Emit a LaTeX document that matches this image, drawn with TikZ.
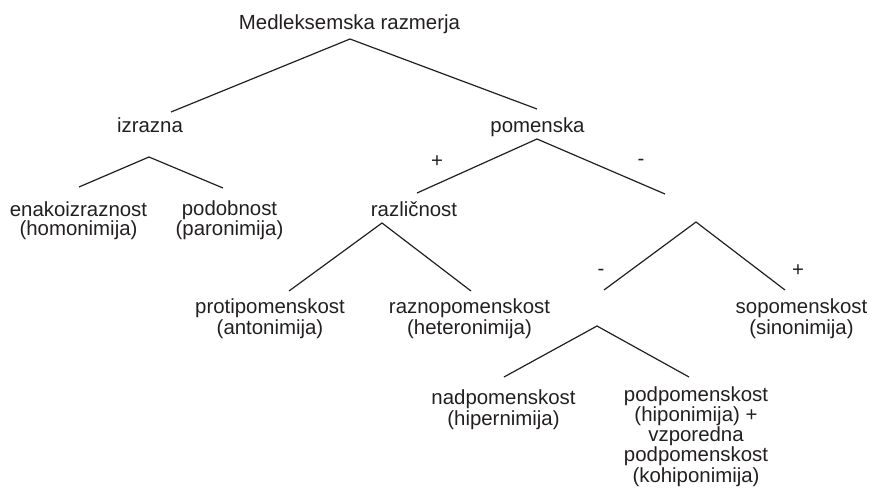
\documentclass[tikz,border=0pt]{standalone}
\usepackage{fontspec}
\setmainfont{Liberation Sans}
\definecolor{ink}{RGB}{35,31,32}
\begin{document}
\begin{tikzpicture}[x=1pt,y=-1pt,
  lbl/.style={anchor=base,inner sep=0pt,align=center,text=ink,
    font={\fontsize{20.4}{19}\selectfont}},
  sgn/.style={anchor=center,inner sep=0pt,text=ink,
    font={\fontsize{20.4}{19}\selectfont}},
  br/.style={draw=ink,line width=1.2pt}]
\useasboundingbox (0,0) rectangle (870,501);
% text nodes (anchor at the baseline of the last line)
\node[lbl] (root) at (349.5,29.5) {Medleksemska razmerja};
\node[lbl] (izr) at (150,132.3) {izrazna};
\node[lbl] (pom) at (537.5,132) {pomenska};
\node[lbl] (enak) at (78.5,235.5) {enakoizraznost\\(homonimija)};
\node[lbl] (podob) at (229.5,235.5) {podobnost\\(paronimija)};
\node[lbl] (razl) at (414,216) {različnost};
\node[lbl] (proti) at (270,334) {protipomenskost\\(antonimija)};
\node[lbl] (razno) at (469.5,334) {raznopomenskost\\(heteronimija)};
\node[lbl] (sopom) at (801.5,334) {sopomenskost\\(sinonimija)};
\node[lbl] (nadp) at (503.5,425) {nadpomenskost\\(hipernimija)};
\node[lbl] (podp) at (696,482) {podpomenskost\\(hiponimija) +\\vzporedna\\podpomenskost\\(kohiponimija)};
% signs
\node[sgn] (s1) at (437,162) {+};
\node[sgn] (s2) at (641,162) {-};
\node[sgn] (s3) at (601,272) {-};
\node[sgn] (s4) at (798,271) {+};
% branch coordinates
\coordinate (a0) at (350,39);
\coordinate (a0l) at (171,112);
\coordinate (a0r) at (537,109);
\coordinate (a1) at (149,157);
\coordinate (a1l) at (79,187);
\coordinate (a1r) at (223,188);
\coordinate (a2) at (537,139);
\coordinate (a2l) at (417,193);
\coordinate (a2r) at (665,194);
\coordinate (a3) at (382,223);
\coordinate (a3l) at (289,291);
\coordinate (a3r) at (471,291);
\coordinate (a4) at (696,222);
\coordinate (a4l) at (604,290);
\coordinate (a4r) at (785,290);
\coordinate (a5) at (597,326);
\coordinate (a5l) at (504,377);
\coordinate (a5r) at (689,377);
% branches
\draw[br] (a0l) -- (a0) -- (a0r);
\draw[br] (a1l) -- (a1) -- (a1r);
\draw[br] (a2l) -- (a2) -- (a2r);
\draw[br] (a3l) -- (a3) -- (a3r);
\draw[br] (a4l) -- (a4) -- (a4r);
\draw[br] (a5l) -- (a5) -- (a5r);
\end{tikzpicture}
\end{document}
